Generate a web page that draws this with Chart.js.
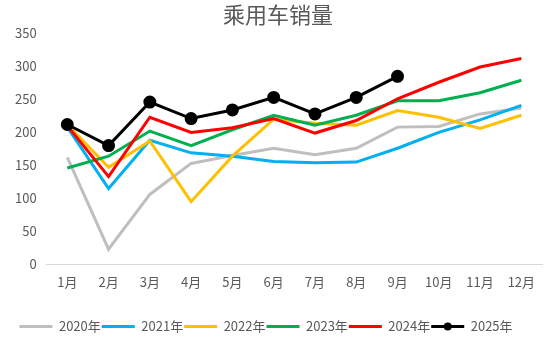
<!DOCTYPE html>
<html>
<head>
<meta charset="utf-8">
<script src="https://cdn.jsdelivr.net/npm/chart.js@4/dist/chart.umd.min.js"></script>
<style>
    html, body { margin: 0; padding: 0; background: #fff; }
    #wrap { width: 550px; height: 343px; }
</style>
</head>
<body>
<div id="wrap"><canvas id="salesChart"></canvas></div>
<script>
const months = ['1月', '2月', '3月', '4月', '5月', '6月', '7月', '8月', '9月', '10月', '11月', '12月'];
const yearLabels = ['2020年', '2021年', '2022年', '2023年', '2024年', '2025年'];
const sales2020 = [162, 23, 106, 153, 165, 176, 166, 176, 208, 209, 228, 237];
const sales2021 = [208, 115, 188, 169, 164, 156, 154, 155, 176, 200, 219, 241];
const sales2022 = [212, 147, 187, 95, 164, 220, 214, 211, 233, 223, 206, 226];
const sales2023 = [146, 164, 202, 180, 204, 226, 211, 226, 248, 248, 260, 279];
const sales2024 = [210, 133, 223, 200, 207, 221, 199, 218, 251, 276, 299, 312];
const sales2025 = [212, 180, 246, 221, 234, 253, 228, 253, 285];
const lineColors = ['#bfbfbf', '#00b0f0', '#ffc000', '#00b050', '#ff0000', '#000000'];

const allSeries = [sales2020, sales2021, sales2022, sales2023, sales2024, sales2025];
const cjkFont = "'Noto Sans CJK SC', sans-serif";

const datasets = allSeries.map((values, i) => ({
    label: yearLabels[i],
    data: values,
    borderColor: lineColors[i],
    backgroundColor: lineColors[i],
    borderWidth: 3,
    pointRadius: i === 5 ? 5 : 0,
    pointHoverRadius: i === 5 ? 5 : 0,
    pointBackgroundColor: lineColors[i],
    tension: 0,
    order: 6 - i
}));

// legend sits a bit left of centre in the original; 2025 swatch gets a dot
const legendTweaks = {
    id: 'legendTweaks',
    afterLayout(chart) {
        if (!chart.legend) return;
        chart.legend.left -= 12;
        chart.legend.right -= 12;
    },
    afterDraw(chart) {
        const legend = chart.legend;
        if (!legend || !legend.legendHitBoxes) return;
        const box = legend.legendHitBoxes[5];
        if (!box) return;
        const ctx = chart.ctx;
        const bw = legend.options.labels.boxWidth;
        ctx.save();
        ctx.fillStyle = '#000';
        ctx.beginPath();
        ctx.arc(box.left + bw / 2, box.top + box.height / 2, 4, 0, Math.PI * 2);
        ctx.fill();
        ctx.restore();
    }
};

new Chart(document.getElementById('salesChart'), {
    type: 'line',
    data: { labels: months, datasets: datasets },
    plugins: [legendTweaks],
    options: {
        responsive: true,
        maintainAspectRatio: false,
        animation: false,
        layout: { padding: { left: 13, right: 7, top: 0, bottom: 0 } },
        plugins: {
            title: {
                display: true,
                text: '乘用车销量',
                color: '#595959',
                font: { size: 22, family: cjkFont, weight: 'normal' },
                padding: { top: 1, bottom: 6 }
            },
            legend: {
                position: 'bottom',
                labels: {
                    color: '#595959',
                    font: { size: 13, family: cjkFont },
                    boxWidth: 33,
                    boxHeight: 3,
                    padding: 1,
                    generateLabels(chart) {
                        return chart.data.datasets.map((ds, i) => ({
                            text: ds.label,
                            fillStyle: ds.borderColor,
                            strokeStyle: ds.borderColor,
                            lineWidth: 0,
                            fontColor: '#595959',
                            datasetIndex: i,
                            hidden: false
                        }));
                    }
                }
            },
            tooltip: { enabled: false }
        },
        scales: {
            x: {
                offset: true,
                grid: { display: false },
                border: { color: '#d9d9d9', width: 1 },
                ticks: {
                    color: '#595959',
                    font: { size: 13, family: cjkFont },
                    maxRotation: 0,
                    padding: 2
                },
                afterFit(scale) {
                    scale.height += 27;
                }
            },
            y: {
                min: 0,
                max: 350,
                grid: { display: false },
                border: { display: false },
                ticks: {
                    stepSize: 50,
                    color: '#595959',
                    font: { size: 13, family: cjkFont },
                    padding: 2
                }
            }
        }
    }
});
</script>
</body>
</html>
